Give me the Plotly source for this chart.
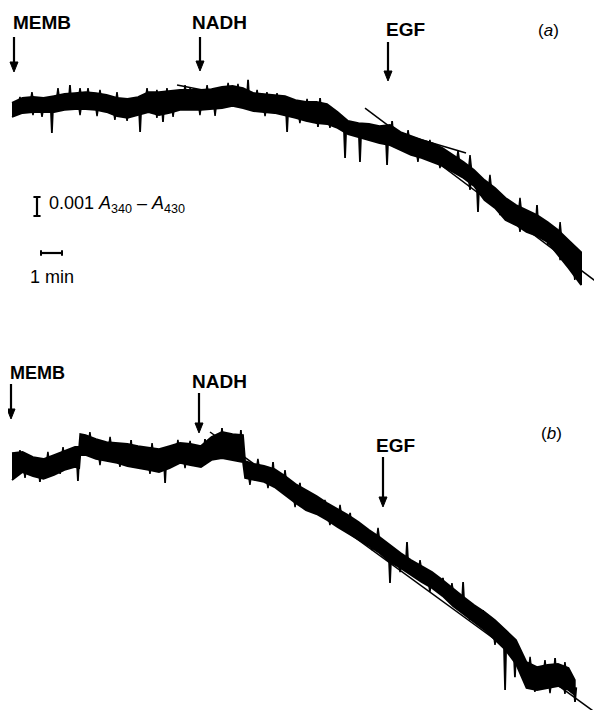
import plotly.graph_objects as go
import numpy as np

# ---------------- DATA ----------------
# time in minutes after membrane addition; absorbance change in units of 0.001 (A340 - A430)

# Panel (a)
t_a = [0, 0.5, 1, 1.5, 2, 2.5, 3, 3.5, 4, 4.5, 5, 5.5, 6, 6.5, 7, 7.5, 8, 8.5, 9, 9.5,
       10, 10.5, 11, 11.5, 12, 12.5, 13, 13.5, 14, 14.5, 15, 15.5, 16, 16.5, 17, 17.5,
       18, 18.5, 19, 19.5, 20, 20.5, 21, 21.5, 22, 22.5, 23, 23.5, 24, 24.5, 25, 25.5,
       26, 26.5, 27, 27.1]
a_upper = [0.11, 0.37, 0.42, 0.37, 0.47, 0.58, 0.63, 0.68, 0.63, 0.53, 0.37, 0.32, 0.42, 0.68,
           0.68, 0.74, 0.79, 0.79, 0.79, 0.84, 0.95, 1.00, 0.89, 0.63, 0.58, 0.53, 0.47, 0.26,
           0.16, 0.16, 0.05, -0.37, -0.84, -0.95, -1.00, -1.11, -1.05, -1.42, -1.63, -1.84,
           -2.00, -2.26, -2.63, -3.00, -3.42, -3.95, -4.37, -4.89, -5.26, -5.53, -5.79, -6.16,
           -6.58, -7.11, -7.63, -7.74]
a_lower = [-0.63, -0.42, -0.37, -0.37, -0.37, -0.26, -0.21, -0.21, -0.26, -0.37, -0.58, -0.68,
           -0.53, -0.37, -0.53, -0.42, -0.26, -0.26, -0.26, -0.21, -0.16, -0.05, -0.16, -0.32,
           -0.37, -0.42, -0.53, -0.68, -0.84, -0.95, -1.00, -1.21, -1.53, -1.68, -1.84, -2.00,
           -2.11, -2.37, -2.63, -2.79, -3.00, -3.21, -3.53, -3.84, -4.26, -5.00, -5.42, -6.05,
           -6.32, -6.68, -6.89, -7.21, -7.89, -8.58, -9.32, -9.47]
# large noise spikes
a_spike_t = [1.90, 2.76, 6.10, 7.19, 11.24, 13.10, 14.57, 14.67, 15.86, 16.57, 17.86, 18.10, 22.19, 25.0]
a_spike_tip = [-1.47, 1.05, -1.42, -0.89, 1.32, -1.42, -1.16, 0.37, -2.79, -3.00, -3.16, -0.84, -5.63, -5.26]
# small noise excursions at the band edges
a_hair_t = [0.38, 0.95, 2.19, 3.24, 3.62, 4.19, 5.0, 6.43, 6.90, 7.38, 8.24, 8.48, 9.29, 10.29,
            10.76, 11.67, 12.14, 12.62, 14.05, 18.86, 19.9, 21.24, 21.81, 22.76, 24.19, 26.1,
            1.0, 1.43, 3.24, 4.05, 4.90, 5.48, 6.90, 7.67, 8.95, 9.67, 12.05, 13.71, 15.14,
            19.33, 20.38, 21.81, 23.24, 24.19, 25.52, 26.1, 26.8]
a_hair_tip = [0.42, 0.68, 0.89, 0.89, 0.89, 0.79, 0.68, 0.89, 0.79, 0.89, 1.05, 0.89, 1.05, 1.16,
              1.11, 0.79, 0.68, 0.63, 0.32, -1.32, -1.84, -2.37, -2.63, -3.68, -4.89, -6.16,
              -0.53, -0.63, -0.53, -0.58, -0.79, -0.84, -0.68, -0.63, -0.53, -0.58, -0.58, -0.95,
              -1.21, -3.0, -3.32, -4.47, -5.79, -6.68, -7.37, -8.16, -9.21]
a_fit_nadh_t = [7.86, 9.57]
a_fit_nadh_v = [1.05, 0.68]
a_fit_pre_t = [18.24, 21.62]
a_fit_pre_v = [-1.42, -2.53]
a_fit_egf_t = [16.81, 28.1]
a_fit_egf_v = [-0.16, -9.53]

# Panel (b)
t_b = [0, 0.5, 1, 1.5, 2, 2.5, 3, 3.2, 3.25, 3.5, 4, 4.5, 5, 5.5, 6, 6.5, 7, 7.5, 8, 8.5, 9,
       9.5, 10, 10.5, 11, 11.1, 11.5, 12, 12.5, 13, 13.5, 14, 14.5, 15, 15.5, 16, 16.5, 17,
       17.5, 18, 18.5, 19, 19.5, 20, 20.5, 21, 21.5, 22, 22.5, 23, 23.5, 24, 24.5, 25, 25.5,
       26, 26.5, 26.8]
b_upper = [0.68, 0.74, 0.47, 0.37, 0.58, 0.79, 1.00, 1.00, 1.68, 1.63, 1.42, 1.26, 1.21, 1.16,
           1.05, 0.95, 0.89, 1.05, 1.21, 1.16, 1.05, 1.53, 1.79, 1.68, 1.63, 0.26, 0.11, 0.00,
           -0.16, -0.53, -0.95, -1.26, -1.58, -1.95, -2.26, -2.58, -2.95, -3.37, -3.74, -4.16,
           -4.58, -4.95, -5.26, -5.58, -6.00, -6.47, -6.89, -7.32, -7.68, -8.11, -8.63, -9.16,
           -10.32, -10.58, -10.47, -10.42, -10.63, -11.26]
b_lower = [-0.74, -0.32, -0.53, -0.68, -0.47, -0.21, -0.05, -0.11, 0.58, 0.58, 0.37, 0.26,
           0.16, 0.00, -0.11, -0.21, -0.32, -0.11, 0.16, 0.05, -0.05, 0.32, 0.42, 0.32, 0.21,
           -0.63, -0.74, -0.84, -1.11, -1.53, -1.95, -2.32, -2.53, -2.84, -3.21, -3.53, -3.89,
           -4.21, -4.58, -5.05, -5.37, -5.74, -6.11, -6.42, -6.84, -7.37, -7.79, -8.21, -8.63,
           -9.16, -9.68, -10.42, -11.68, -11.79, -11.68, -11.58, -11.79, -12.05]
b_spike_t = [1.33, 3.14, 5.67, 7.29, 9.19, 10.0, 10.90, 12.43, 13.71, 14.33, 16.10, 16.67,
             18.0, 18.81, 20.52, 21.48, 22.43, 23.48, 23.95, 25.86, 26.81]
b_spike_tip = [-0.84, -0.79, 1.37, -0.89, 1.42, 2.00, 1.89, 0.21, -0.89, -1.53, -2.47, -3.47,
               -6.16, -4.00, -5.89, -6.11, -7.58, -11.79, -11.11, -10.11, -12.42]
b_hair_t = [0.38, 1.71, 2.43, 3.71, 4.67, 6.67, 7.90, 8.48, 11.71, 13.0, 14.9, 15.62, 17.43,
            19.43, 20.95, 24.67, 25.38, 26.33,
            0.62, 2.29, 4.19, 5.14, 6.57, 8.24, 11.33, 12.19, 13.48, 15.14, 17.14, 18.48,
            19.9, 21.81, 23.0, 24.9, 25.62, 26.33]
b_hair_tip = [0.84, 0.74, 1.0, 1.79, 1.53, 1.21, 1.37, 1.32, 0.37, -0.21, -1.79, -2.05, -3.26,
              -4.95, -6.16, -10.05, -10.21, -10.32,
              -0.63, -0.42, 0.05, -0.05, -0.42, -0.11, -1.0, -1.16, -2.16, -3.11, -4.42, -5.58,
              -6.63, -8.11, -9.42, -11.89, -11.95, -12.0]
b_fit_t = [9.43, 27.67]
b_fit_v = [1.79, -12.89]

# Scale bars
scale_absorbance = 1.0   # 0.001 A
scale_time = 1.0         # 1 min

# ---------------- FIGURE ----------------
PAGE_OFF = 8            # default body margin of the html page
W, H = 602 - PAGE_OFF, 710 - PAGE_OFF
INK = "#000000"
FONT = "Liberation Sans"

fig = go.Figure()


def band(t, up, lo, yaxis):
    t = list(t)
    fig.add_trace(go.Scatter(
        x=t + t[::-1], y=list(up) + list(lo)[::-1], yaxis=yaxis,
        mode="lines", fill="toself", fillcolor=INK,
        line=dict(color=INK, width=1.8), hoverinfo="skip", showlegend=False))


def spikes(t_env, up, lo, st, tip, yaxis, half=0.06, lw=1.8):
    mid = (np.array(up) + np.array(lo)) / 2.0
    xs, ys = [], []
    for t, v in zip(st, tip):
        base = float(np.interp(t, t_env, mid))
        xs += [t - half, t, t + half, None]
        ys += [base, v, base, None]
    fig.add_trace(go.Scatter(x=xs, y=ys, yaxis=yaxis, mode="lines",
                             fill="toself", fillcolor=INK,
                             line=dict(color=INK, width=lw),
                             hoverinfo="skip", showlegend=False))


def fit(t, v, yaxis):
    fig.add_trace(go.Scatter(x=t, y=v, yaxis=yaxis, mode="lines",
                             line=dict(color=INK, width=1.5),
                             hoverinfo="skip", showlegend=False))


band(t_a, a_upper, a_lower, "y")
spikes(t_a, a_upper, a_lower, a_spike_t, a_spike_tip, "y")
spikes(t_a, a_upper, a_lower, a_hair_t, a_hair_tip, "y", half=0.1, lw=1.5)
fit(a_fit_nadh_t, a_fit_nadh_v, "y")
fit(a_fit_pre_t, a_fit_pre_v, "y")
fit(a_fit_egf_t, a_fit_egf_v, "y")

band(t_b, b_upper, b_lower, "y2")
spikes(t_b, b_upper, b_lower, b_spike_t, b_spike_tip, "y2")
spikes(t_b, b_upper, b_lower, b_hair_t, b_hair_tip, "y2", half=0.1, lw=1.5)
fit(b_fit_t, b_fit_v, "y2")

# pixel geometry of the axes (1 min = 21 px, 0.001 A = 19 px), page coordinates
PX_MIN = 21.0
PX_UNIT = 19.0
X0 = 12.0
YA0 = 105.0
YB0 = 466.0
xrange = [(PAGE_OFF - X0) / PX_MIN, (PAGE_OFF + W - X0) / PX_MIN]
ya_range = [(YA0 - PAGE_OFF - H) / PX_UNIT, (YA0 - PAGE_OFF) / PX_UNIT]
yb_range = [(YB0 - PAGE_OFF - H) / PX_UNIT, (YB0 - PAGE_OFF) / PX_UNIT]

# scale bars (panel a axes)
sb_t = (37 - X0) / PX_MIN
sb_top = (YA0 - 197) / PX_UNIT
fig.add_shape(type="line", xref="x", yref="y", x0=sb_t, x1=sb_t, y0=sb_top,
              y1=sb_top - scale_absorbance, line=dict(color=INK, width=2.2))
for yy in (sb_top, sb_top - scale_absorbance):
    fig.add_shape(type="line", xref="x", yref="y", x0=sb_t - 0.17, x1=sb_t + 0.17,
                  y0=yy, y1=yy, line=dict(color=INK, width=2))
tb_t0 = (41 - X0) / PX_MIN
tb_y = (YA0 - 253) / PX_UNIT
fig.add_shape(type="line", xref="x", yref="y", x0=tb_t0, x1=tb_t0 + scale_time,
              y0=tb_y, y1=tb_y, line=dict(color=INK, width=2.2))
for xx in (tb_t0, tb_t0 + scale_time):
    fig.add_shape(type="line", xref="x", yref="y", x0=xx, x1=xx,
                  y0=tb_y - 0.14, y1=tb_y + 0.14, line=dict(color=INK, width=2))


def px(x):
    return (x - PAGE_OFF) / W


def py(y):
    return 1 - (y - PAGE_OFF) / H


def label(text, x, y, size=19, bold=True, xanchor="center"):
    fig.add_annotation(text=("<b>%s</b>" % text) if bold else text,
                       x=px(x), y=py(y), xref="paper", yref="paper",
                       showarrow=False, xanchor=xanchor, yanchor="middle",
                       font=dict(family=FONT, size=size, color=INK))


def arrow(x, y_tail, y_tip):
    head = 10
    fig.add_shape(type="line", xref="paper", yref="paper",
                  x0=px(x), x1=px(x), y0=py(y_tail), y1=py(y_tip - head + 1),
                  line=dict(color=INK, width=2.2))
    path = "M %f,%f L %f,%f L %f,%f Z" % (px(x - 4), py(y_tip - head), px(x + 4),
                                          py(y_tip - head), px(x), py(y_tip))
    fig.add_shape(type="path", xref="paper", yref="paper", path=path,
                  fillcolor=INK, line=dict(color=INK, width=1))


# panel (a) labels
label("MEMB", 42, 22)
arrow(14, 37, 72)
label("NADH", 219, 22)
arrow(200, 37, 71)
label("EGF", 405, 29)
arrow(388, 42, 81)
label("(<i>a</i>)", 548, 30, size=17, bold=False)

# panel (b) labels
label("MEMB", 8, 373, size=18, xanchor="left")
arrow(11, 384, 419)
label("NADH", 219, 382)
arrow(199, 393, 433)
label("EGF", 395, 445)
arrow(383, 457, 507)
label("(<i>b</i>)", 551, 433, size=17, bold=False)

# scale labels
label("0.001 <i>A</i><sub>340</sub> – <i>A</i><sub>430</sub>", 47, 205, size=18,
      bold=False, xanchor="left")
label("1 min", 52, 277, size=18, bold=False)

fig.update_layout(
    width=W, height=H, margin=dict(l=0, r=0, t=0, b=0),
    paper_bgcolor="white", plot_bgcolor="white", showlegend=False,
    xaxis=dict(range=xrange, visible=False, fixedrange=True),
    yaxis=dict(range=ya_range, visible=False, fixedrange=True),
    yaxis2=dict(range=yb_range, visible=False, overlaying="y", fixedrange=True),
)

fig.write_html("out.html")
